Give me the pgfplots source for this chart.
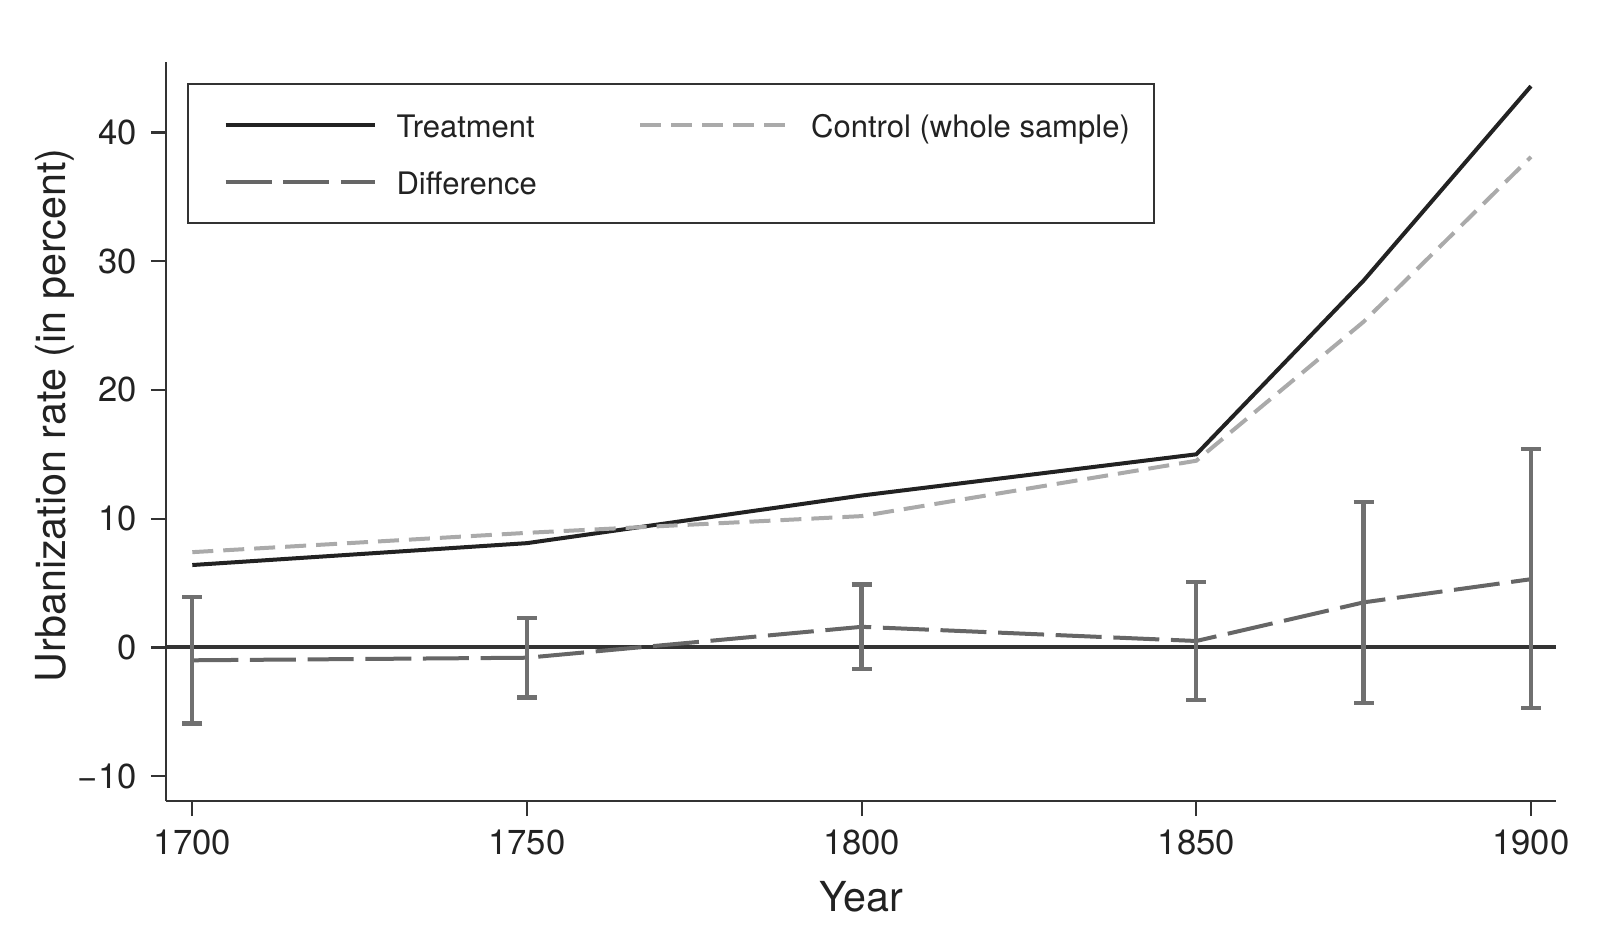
\documentclass[border=0pt]{standalone}
\usepackage{fontspec}
\setmainfont{TeX Gyre Heros}
\usepackage{pgfplots}
\pgfplotsset{compat=1.18}

\definecolor{treat}{HTML}{222222}
\definecolor{ctrl}{HTML}{AAAAAA}
\definecolor{diff}{HTML}{666666}
\definecolor{ebar}{HTML}{707070}
\definecolor{zline}{HTML}{333333}
\definecolor{txt}{HTML}{222222}

\begin{document}
\begin{tikzpicture}
% page = 1598 x 948 px at 0.3pt per px, axis box at (166,801)-(1556,62)
\useasboundingbox (-49.8pt,-44.1pt) rectangle (429.6pt,240.3pt);
\begin{axis}[
    at={(0pt,0pt)}, anchor=south west,
    scale only axis,
    width=417pt,
    height=221.8pt,
    xmin=1696.07, xmax=1903.74,
    ymin=-11.93, ymax=45.5,
    axis x line*=bottom,
    axis y line*=left,
    axis line style={color=zline, line width=0.65pt},
    tick align=outside,
    major tick length=4.5pt,
    tick style={color=zline, line width=0.65pt},
    xtick={1700,1750,1800,1850,1900},
    xticklabels={1700,1750,1800,1850,1900},
    ytick={-10,0,10,20,30,40},
    yticklabels={−10,0,10,20,30,40},
    ticklabel style={font=\fontsize{10.4}{12}\selectfont, color=txt},
    xticklabel style={yshift=-0.6pt},
    yticklabel style={xshift=-0.8pt},
    xlabel={Year},
    ylabel={Urbanization rate (in percent)},
    label style={font=\fontsize{12.4}{14}\selectfont, color=txt},
    xlabel style={yshift=-1.2pt},
    ylabel style={inner sep=0pt, xshift=4.8pt, yshift=-2.6pt},
    legend columns=2,
    legend cell align=left,
    legend style={
        at={(rel axis cs:0.0153,0.9717)}, anchor=north west,
        draw=zline, line width=0.6pt,
        font=\fontsize{9.3}{11}\selectfont, text=txt,
        inner xsep=7.2pt, inner ysep=6.6pt,
        nodes={inner sep=0pt, text height=9.7pt, text depth=1.9pt},
        row sep=5.4pt,
        /tikz/every odd column/.append style={column sep=6pt},
        /tikz/every even column/.append style={column sep=27pt},
    },
    legend image code/.code={
        \path (0pt,0pt);
        \draw[#1] (3.4pt,0pt) -- (48.1pt,0pt);
    },
]
\addplot[treat, line width=1.2pt] table {
x y
1700 6.4
1750 8.1
1800 11.8
1850 15.0
1875 28.5
1900 43.6
};
\addlegendentry{Treatment}

\addplot[ctrl, line width=1.2pt, dash pattern=on 6.3pt off 3pt] table {
x y
1700 7.4
1750 8.9
1800 10.2
1850 14.5
1875 25.3
1900 38.1
};
\addlegendentry{Control (whole sample)}

\addplot[zline, line width=1.2pt, forget plot] coordinates {(1696.07,0) (1903.74,0)};

\addplot[diff, line width=1.2pt, dash pattern=on 13.8pt off 3.5pt,
    error bars/.cd, y dir=both, y explicit,
    error bar style={ebar, line width=1.3pt, solid},
    error mark options={ebar, line width=1.3pt, solid, mark size=3pt, rotate=90},
] table[x=x, y=y, y error plus=ep, y error minus=em] {
x y ep em
1700 -1.0 4.9 4.9
1750 -0.8 3.1 3.1
1800 1.6 3.3 3.3
1850 0.5 4.6 4.6
1875 3.5 7.8 7.8
1900 5.3 10.1 10.0
};
\addlegendentry{Difference}
\end{axis}
\end{tikzpicture}
\end{document}
